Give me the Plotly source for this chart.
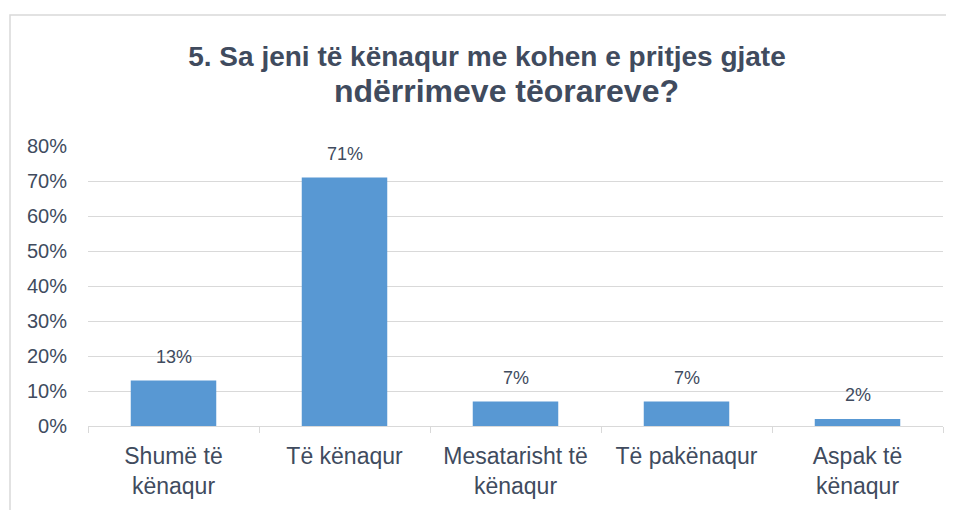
import plotly.graph_objects as go

categories = ["Shumë të<br>kënaqur", "Të kënaqur", "Mesatarisht të<br>kënaqur", "Të pakënaqur", "Aspak të<br>kënaqur"]
values = [0.13, 0.71, 0.07, 0.07, 0.02]
labels = ["13%", "71%", "7%", "7%", "2%"]
y_ticks = [0, 0.1, 0.2, 0.3, 0.4, 0.5, 0.6, 0.7, 0.8]
y_tick_text = ["0%", "10%", "20%", "30%", "40%", "50%", "60%", "70%", "80%"]
title_line1 = "5. Sa jeni të kënaqur me kohen e pritjes gjate"
title_line2 = "ndërrimeve tëorareve?"

TXT = "#404b5e"
GRID = "#d9d9d9"
FONT = "Liberation Sans, Arial, sans-serif"

W, H = 946, 502
L, R, T, B = 80, 11, 138, 82
PW, PH = W - L - R, H - T - B

fig = go.Figure()
fig.add_trace(go.Bar(
    x=categories, y=values, width=0.5,
    marker=dict(color="#5898d3", line=dict(width=0)),
    hoverinfo="skip",
))

for c, v, t in zip(categories, values, labels):
    fig.add_annotation(x=c, y=v, text=t, showarrow=False, yanchor="bottom",
                       yshift=12, font=dict(family=FONT, size=18, color=TXT))

title_html = ("<b>" + title_line1 + "<br>" + "&nbsp;" * 5 +
              "<span style='font-size:32px'>" + title_line2 + "</span></b>")

fig.update_layout(
    width=W, height=H,
    paper_bgcolor="white", plot_bgcolor="white",
    margin=dict(l=L, r=R, t=T, b=B),
    showlegend=False,
    title=dict(text=title_html,
               x=479 / W, xanchor="center",
               y=1 - 58 / H, yanchor="top",
               font=dict(family=FONT, size=28, color=TXT)),
    font=dict(family=FONT, color=TXT),
    bargap=0.5,
)
fig.update_yaxes(range=[0, 0.8], tickvals=y_ticks, ticktext=y_tick_text,
                 showgrid=True, gridcolor=GRID, gridwidth=1, zeroline=False,
                 showline=False, ticks="", ticklabelstandoff=20,
                 tickfont=dict(family=FONT, size=20, color=TXT))
fig.update_xaxes(showline=True, linecolor=GRID, linewidth=1, ticks="outside",
                 tickson="boundaries", ticklen=6, tickcolor=GRID,
                 tickfont=dict(family=FONT, size=23, color=TXT), ticklabelstandoff=9)

fig.add_shape(type="rect", xref="paper", yref="paper",
              x0=(2 - L) / PW, x1=1.2, y0=-0.6, y1=1 + (T - 6) / PH,
              line=dict(color=GRID, width=1.5), fillcolor="rgba(0,0,0,0)", layer="below")

fig.write_html("out.html")
